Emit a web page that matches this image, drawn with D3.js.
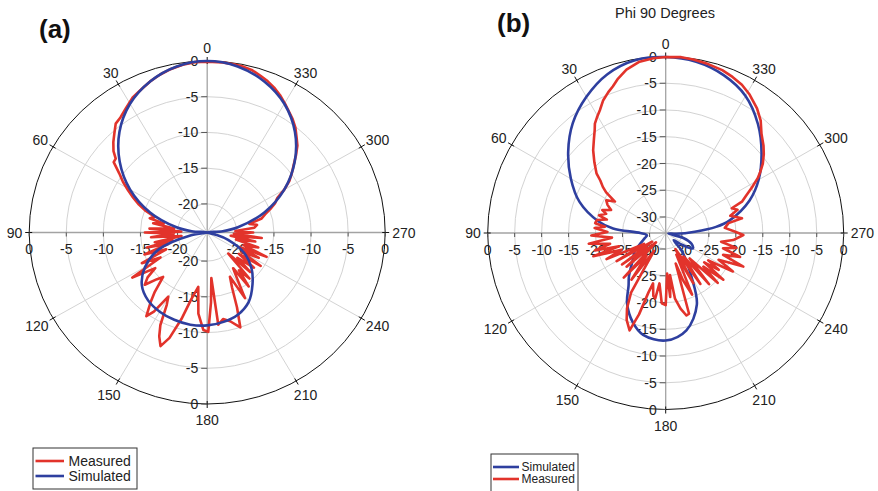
<!DOCTYPE html>
<html>
<head>
<meta charset="utf-8">
<script src="https://cdn.jsdelivr.net/npm/d3@7"></script>
<style>
  body { margin: 0; background: #fff; }
  svg { display: block; font-family: "Liberation Sans", Arial, Helvetica, sans-serif; }
</style>
</head>
<body>
<svg id="chart" width="878" height="491"></svg>
<script>
// Angle Labels Round The Circle (Degrees)
const angleTicks = [0, 30, 60, 90, 120, 150, 180, 210, 240, 270, 300, 330];

// Ring Values (dB)
const ringsA = [0, -5, -10, -15, -20];
const ringsB = [0, -5, -10, -15, -20, -25, -30];

// Panel (a) Simulated
const simAAngles = [0, 10, 20, 30, 40, 50, 60, 70, 80, 85, 90, 100, 110, 120, 130, 140, 150, 160, 170, 180,
  190, 200, 210, 220, 230, 240, 250, 255, 262, 275, 280, 290, 300, 310, 320, 330, 340, 350];
const simAValues = [0, -0.4, -1.5, -3.2, -5.6, -8.6, -12, -15.8, -19.8, -21.9, -24, -21.8, -17, -14.3, -12.5, -11.6, -11.2, -11.0, -10.9, -11.0,
  -11.3, -11.8, -12.8, -14.5, -16.2, -18.2, -21, -22.8, -24, -21.9, -19.8, -15.8, -12, -8.6, -5.6, -3.2, -1.5, -0.4];

// Panel (a) Measured
const measAAngles = [0, 4, 8, 12, 16, 20, 24, 28, 32, 36, 39, 42, 45, 48, 50, 52, 55, 58, 61, 64, 67, 70, 73, 75.6, 78, 80,
  83, 86, 88, 90, 92, 95, 98, 101, 103, 104.5, 107, 110, 113, 116, 119, 122, 125.4, 128, 131, 134, 136.3, 139.6, 142, 145,
  147, 149.7, 151.7, 154, 156, 158.4, 161, 164, 167, 171, 174, 177.8, 180.6, 183, 185, 186.6, 190, 194, 198.6, 201, 203.5,
  206.4, 209, 212, 215, 216.5, 219, 221.5, 224, 226.4, 229, 232, 235, 237, 240, 243, 245, 247, 250, 253, 256, 259, 262, 264,
  267, 270, 273, 276, 279, 282, 285, 288, 291, 294, 297, 300, 303, 306, 309, 312, 315, 318, 321, 324, 327, 330, 333, 336,
  339, 342, 345, 348, 351, 355];
const measAValues = [-0.1, -0.1, -0.3, -0.6, -1.0, -1.5, -2.1, -2.6, -3.4, -4.1, -4.4, -5.3, -6.1, -7.0, -7.9, -8.0, -9.5, -10.6, -11.8, -12.9, -14.0, -15.2, -16.6, -16.0, -18.0, -16.6,
  -19.5, -16.2, -20.5, -15.6, -19.5, -16.4, -20.5, -16.8, -19.2, -15.6, -18.5, -15.0, -18.0, -14.2, -16.8, -12.1, -15.4, -13.8, -12.85, -14.6, -15.4, -13.1, -11.6, -9.7,
  -10.8, -13.6, -12.5, -9.6, -8.1, -6.9, -8.4, -11.4, -14.4, -16.3, -12.6, -10.35, -10.1, -14.2, -17.6, -11.0, -11.7, -11.2, -10.0, -12.8, -15.6,
  -17.1, -13.5, -16.4, -17.9, -14.6, -17.2, -15.4, -19.9, -16.0, -18.6, -16.0, -18.8, -15.4, -18.6, -16.2, -19.2, -15.3, -18.8, -16.8, -20.0, -17.4, -20.8, -16.6,
  -20.4, -17.8, -20.2, -17.6, -17.2, -18.2, -16.4, -15.8, -14.9, -14.0, -13.4, -12.0, -10.8, -9.9, -9.0, -7.9, -6.8, -6.0, -5.1, -4.4, -3.8, -3.1, -2.4, -1.8,
  -1.3, -0.9, -0.5, -0.3, -0.2, -0.1];

// Panel (b) Simulated
const simBAngles = [0, 10, 20, 30, 40, 50, 60, 70, 80, 85, 90, 97, 104, 112, 121, 130, 140, 145, 151.5, 160, 167.6, 180,
  191.9, 203.3, 210.4, 216, 222, 228, 234, 240, 247, 254, 260, 266, 272.6, 277, 281.3, 291.4, 300, 310, 320, 330, 340, 350];
const simBValues = [-0.1, -0.2, -1.4, -3.6, -6.2, -9.4, -12.7, -16.0, -20.3, -23.2, -28.3, -29.5, -29.0, -28.0, -26.3, -25.0, -22.4, -21.0, -18.0, -15.2, -13.5, -12.9,
  -14.4, -18.4, -23.6, -26.5, -28.6, -31.0, -29.3, -27.2, -27.8, -29.6, -32.5, -31.0, -27.6, -23.6, -20.9, -16.3, -13.1, -9.8, -6.4, -3.4, -1.6, -0.5];

// Panel (b) Measured
const measBAngles = [0, 4, 8.6, 13.4, 17, 19.7, 22, 25, 28, 30.5, 32.7, 34.4, 37, 41, 45, 49, 51, 53.5, 55.5, 58, 61, 64, 67,
  70, 72, 75, 77, 79.2, 82, 84, 86, 89, 92, 95, 98, 101, 104, 106, 108, 111, 114, 117, 120, 123, 126, 128, 131, 134, 137,
  140, 144, 147, 150, 153, 156, 159.8, 162, 164, 166, 169, 171, 173, 176.8, 180, 182, 184, 185.8, 188, 191, 194, 196, 198,
  200, 203, 206, 208.6, 211, 214, 217, 220, 223, 226, 228, 230.7, 232.5, 235, 237, 240, 243, 246.4, 249, 252, 255, 258,
  261, 264, 268.5, 271, 275, 279, 281, 285, 288, 290.7, 292.5, 295, 298, 301, 303, 305.8, 309, 312, 316.3, 320, 324, 329,
  333, 337, 341, 346.6, 351, 355];
const measBValues = [-0.1, -0.25, -0.6, -1.6, -2.8, -3.9, -4.6, -5.6, -7.0, -7.9, -8.7, -9.7, -10.9, -12.5, -14.3, -16.0, -17.4, -18.5, -19.6, -21.9, -20.4, -21.0, -22.0,
  -20.5, -21.4, -20.2, -21.8, -20.0, -19.8, -21.7, -19.8, -22.2, -19.2, -23.0, -18.6, -22.5, -19.5, -24.0, -18.9, -24.2, -21.0, -28.5, -22.5, -30.0, -23.0, -28.5, -23.4, -30.5, -21.6,
  -27.5, -22.2, -29.0, -20.2, -17.2, -15.2, -13.6, -17.0, -21.5, -23.3, -21.0, -20.6, -23.5, -19.85, -19.5, -25.4, -21.0, -25.1, -20.6, -18.6, -17.1, -17.3, -27.0,
  -23.6, -20.5, -28.5, -22.3, -29.5, -21.5, -27.5, -20.5, -26.5, -19.6, -23.6, -19.2, -24.0, -21.0, -23.6, -18.6, -22.0, -17.3, -21.6, -18.5, -22.0, -19.6,
  -22.6, -20.4, -18.6, -20.1, -22.0, -21.2, -18.6, -20.6, -19.0, -19.9, -17.7, -16.6, -14.9, -13.1, -12.1, -10.8, -9.6, -8.6, -7.3, -5.6, -4.2, -2.8,
  -1.9, -1.3, -0.8, -0.4, -0.15, 0];

const RED = "#e2332b", BLUE = "#2e3f9f";

const svg = d3.select("#chart");

// Draw One Polar Panel
function polarPlot(cfg) {
  let g = svg.append("g");
  let rs = d3.scaleLinear().domain([cfg.min, 0]).range([0, 1]).clamp(true);
  let rad = (a) => a * Math.PI / 180;
  let pt = (a, v) => [cfg.cx - cfg.rx * rs(v) * Math.sin(rad(a)), cfg.cy - cfg.ry * rs(v) * Math.cos(rad(a))];

  // Grid Rings
  g.selectAll("ellipse.ring").data(cfg.rings.filter((v) => v != 0)).enter().append("ellipse")
    .attr("cx", cfg.cx).attr("cy", cfg.cy)
    .attr("rx", (v) => cfg.rx * rs(v)).attr("ry", (v) => cfg.ry * rs(v))
    .attr("fill", "none").attr("stroke", "#d3d3d3").attr("stroke-width", 1);

  // Spokes
  g.selectAll("line.spoke").data(angleTicks.filter((a) => a % 90 != 0)).enter().append("line")
    .attr("x1", cfg.cx).attr("y1", cfg.cy)
    .attr("x2", (a) => pt(a, 0)[0]).attr("y2", (a) => pt(a, 0)[1])
    .attr("stroke", "#d3d3d3").attr("stroke-width", 1);

  // Main Axes
  [[0, 180], [90, 270]].forEach((p) => {
    g.append("line")
      .attr("x1", pt(p[0], 0)[0]).attr("y1", pt(p[0], 0)[1])
      .attr("x2", pt(p[1], 0)[0]).attr("y2", pt(p[1], 0)[1])
      .attr("stroke", "#a3a3a3").attr("stroke-width", 1.3);
  });

  // Outer Circle
  g.append("ellipse").attr("cx", cfg.cx).attr("cy", cfg.cy).attr("rx", cfg.rx).attr("ry", cfg.ry)
    .attr("fill", "none").attr("stroke", "#111").attr("stroke-width", 1);

  // Outer Ticks
  angleTicks.forEach((a) => {
    let s = Math.sin(rad(a)), c = Math.cos(rad(a));
    g.append("line")
      .attr("x1", cfg.cx - (cfg.rx - 3) * s).attr("y1", cfg.cy - (cfg.ry - 3) * c)
      .attr("x2", cfg.cx - (cfg.rx + 4) * s).attr("y2", cfg.cy - (cfg.ry + 4) * c)
      .attr("stroke", "#111").attr("stroke-width", 1);
  });

  // Angle Labels
  angleTicks.forEach((a) => {
    let s = Math.sin(rad(a)), c = Math.cos(rad(a));
    let p = pt(a, 0);
    let w = String(a).length * 0.556 * 14;
    let ux = -s, uy = -c;
    g.append("text")
      .attr("x", p[0] + ux * (w / 2 + 7))
      .attr("y", p[1] + uy * (5 + (uy > 0 ? 11 : 8)))
      .attr("dy", "0.36em").attr("text-anchor", "middle")
      .attr("font-size", 14).attr("fill", "#222").text(a);
  });

  // Vertical Axis Value Labels And Ticks
  cfg.rings.forEach((v) => {
    [-1, 1].forEach((side) => {
      let y = cfg.cy + side * cfg.ry * rs(v);
      g.append("line").attr("x1", cfg.cx - 6).attr("x2", cfg.cx).attr("y1", y).attr("y2", y)
        .attr("stroke", "#555").attr("stroke-width", 1);
      g.append("text").attr("x", cfg.cx - 9).attr("y", y).attr("dy", "0.36em")
        .attr("text-anchor", "end").attr("font-size", 14).attr("fill", "#222").text(v);
    });
  });

  // Horizontal Axis Value Labels And Ticks
  cfg.rings.forEach((v) => {
    [-1, 1].forEach((side) => {
      let x = cfg.cx + side * cfg.rx * rs(v);
      g.append("line").attr("x1", x).attr("x2", x).attr("y1", cfg.cy).attr("y2", cfg.cy + 4)
        .attr("stroke", "#555").attr("stroke-width", 1);
      g.append("text").attr("x", x).attr("y", cfg.cy + 16.5).attr("dy", "0.36em")
        .attr("text-anchor", "middle").attr("font-size", 14).attr("fill", "#222").text(v);
    });
  });

  // Pattern Curves
  cfg.series.forEach((sr) => {
    let pts = sr.angles.map((a, i) => pt(a, sr.values[i]));
    g.append("path")
      .attr("d", d3.line().curve(sr.curve)(pts))
      .attr("fill", "none").attr("stroke", sr.color)
      .attr("stroke-width", 2.6).attr("stroke-linejoin", "round");
  });
}

// Legend Box
function legend(box, items, fs, gap, lx1, lx2, tx) {
  svg.append("rect").attr("x", box[0]).attr("y", box[1]).attr("width", box[2]).attr("height", box[3])
    .attr("fill", "#fff").attr("stroke", "#333").attr("stroke-width", 1);
  items.forEach((it, i) => {
    let ly = box[1] + 13 + i * gap;
    svg.append("line").attr("x1", box[0] + lx1).attr("x2", box[0] + lx2).attr("y1", ly).attr("y2", ly)
      .attr("stroke", it.color).attr("stroke-width", 2.6);
    svg.append("text").attr("x", box[0] + tx).attr("y", ly).attr("dy", "0.36em")
      .attr("font-size", fs).attr("fill", "#222").text(it.name);
  });
}

// Panel (a)
polarPlot({
  cx: 207.2, cy: 232.5, rx: 178, ry: 171.5, min: -24, rings: ringsA,
  series: [
    { angles: measAAngles, values: measAValues, color: RED, curve: d3.curveLinearClosed },
    { angles: simAAngles, values: simAValues, color: BLUE, curve: d3.curveCatmullRomClosed }
  ]
});

// Panel (b)
polarPlot({
  cx: 665.7, cy: 233, rx: 178, ry: 176.5, min: -33, rings: ringsB,
  series: [
    { angles: simBAngles, values: simBValues, color: BLUE, curve: d3.curveCatmullRomClosed },
    { angles: measBAngles, values: measBValues, color: RED, curve: d3.curveLinearClosed }
  ]
});

// Panel Letters And Title
svg.append("text").attr("x", 39).attr("y", 38).attr("font-size", 26).attr("font-weight", "bold")
  .attr("fill", "#111").text("(a)");
svg.append("text").attr("x", 497).attr("y", 32).attr("font-size", 26).attr("font-weight", "bold")
  .attr("fill", "#111").text("(b)");
svg.append("text").attr("x", 665).attr("y", 18).attr("text-anchor", "middle").attr("font-size", 14.5)
  .attr("fill", "#222").text("Phi 90 Degrees");

legend([33, 448, 104, 41], [{ name: "Measured", color: RED }, { name: "Simulated", color: BLUE }], 14, 15, 2.5, 31, 35.5);
legend([491, 454, 87, 45], [{ name: "Simulated", color: BLUE }, { name: "Measured", color: RED }], 12, 12, 2, 28, 30.5);
</script>
</body>
</html>
